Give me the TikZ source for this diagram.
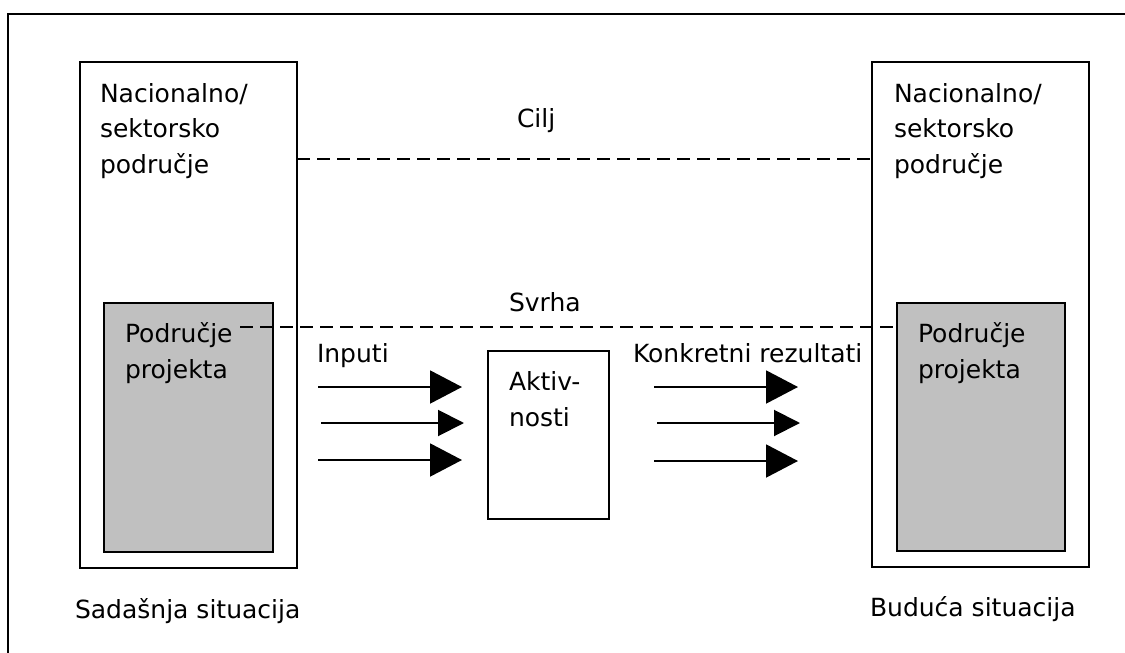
\documentclass[tikz,border=0pt]{standalone}
\usepackage{fontspec}
\setmainfont{DejaVu Sans}
\usetikzlibrary{arrows.meta}
\definecolor{areagray}{HTML}{C0C0C0}
\tikzset{
  box/.style={draw, line width=2pt, anchor=north west, inner sep=0pt, outer sep=0pt},
  area/.style={box, fill=areagray},
  lbl/.style={anchor=base west, inner sep=0pt, outer sep=0pt, align=left, font=\fontsize{25}{35.5}\selectfont},
  dashline/.style={line width=1.8pt, dash pattern=on 13pt off 7pt},
  bigarrow/.style={line width=2pt, -{Triangle[length=32pt,width=33pt]}},
  smallarrow/.style={line width=2pt, -{Triangle[length=26pt,width=26pt]}},
}
\begin{document}
\begin{tikzpicture}[x=1pt,y=-1pt]
\useasboundingbox (0,0) rectangle (1125,653);
% frame
\coordinate (ftr) at (1125,14);
\coordinate (ftl) at (8,14);
\coordinate (fbl) at (8,653);
\draw[line width=2pt] (ftr) -- (ftl) -- (fbl);
% outer boxes
\node[box, minimum width=217pt, minimum height=506pt] (Lout) at (80,62) {};
\node[box, minimum width=217pt, minimum height=505pt] (Rout) at (872,62) {};
% gray project areas
\node[area, minimum width=169pt, minimum height=249pt] (Lproj) at (104,303) {};
\node[area, minimum width=168pt, minimum height=248pt] (Rproj) at (897,303) {};
% activities
\node[box, minimum width=121pt, minimum height=168pt] (akt) at (488,351) {};
% dashed lines
\coordinate (cilj1) at (Lout.east |- 0,159);
\coordinate (cilj2) at (Rout.west |- 0,159);
\draw[dashline] (cilj1) -- (cilj2);
\coordinate (svrha1) at (240,327);
\coordinate (svrha2) at (Rproj.west |- 0,327);
\draw[dashline] (svrha1) -- (svrha2);
% arrows
\coordinate (ia1) at (318,387); \coordinate (ib1) at (462,387);
\coordinate (ia2) at (321,423); \coordinate (ib2) at (464,423);
\coordinate (ia3) at (318,460); \coordinate (ib3) at (462,460);
\coordinate (oa1) at (654,387); \coordinate (ob1) at (798,387);
\coordinate (oa2) at (657,423); \coordinate (ob2) at (800,423);
\coordinate (oa3) at (654,461); \coordinate (ob3) at (798,461);
\draw[bigarrow] (ia1) -- (ib1);
\draw[smallarrow] (ia2) -- (ib2);
\draw[bigarrow] (ia3) -- (ib3);
\draw[bigarrow] (oa1) -- (ob1);
\draw[smallarrow] (oa2) -- (ob2);
\draw[bigarrow] (oa3) -- (ob3);
% labels (multi-line nodes: base = last line)
\node[lbl] (nacL) at (100,173) {Nacionalno/\\sektorsko\\područje};
\node[lbl] (nacR) at (894,173) {Nacionalno/\\sektorsko\\područje};
\node[lbl] (cilj) at (517,127) {Cilj};
\node[lbl] (svrha) at (509,311) {Svrha};
\node[lbl] (podL) at (125,378) {Područje\\projekta};
\node[lbl] (podR) at (918,378) {Područje\\projekta};
\node[lbl] (inputi) at (317,362) {Inputi};
\node[lbl] (aktiv) at (509,426) {Aktiv-\\nosti};
\node[lbl] (konk) at (633,362) {Konkretni rezultati};
\node[lbl] (sad) at (75,618) {Sadašnja situacija};
\node[lbl] (bud) at (870,616) {Buduća situacija};
\end{tikzpicture}
\end{document}
